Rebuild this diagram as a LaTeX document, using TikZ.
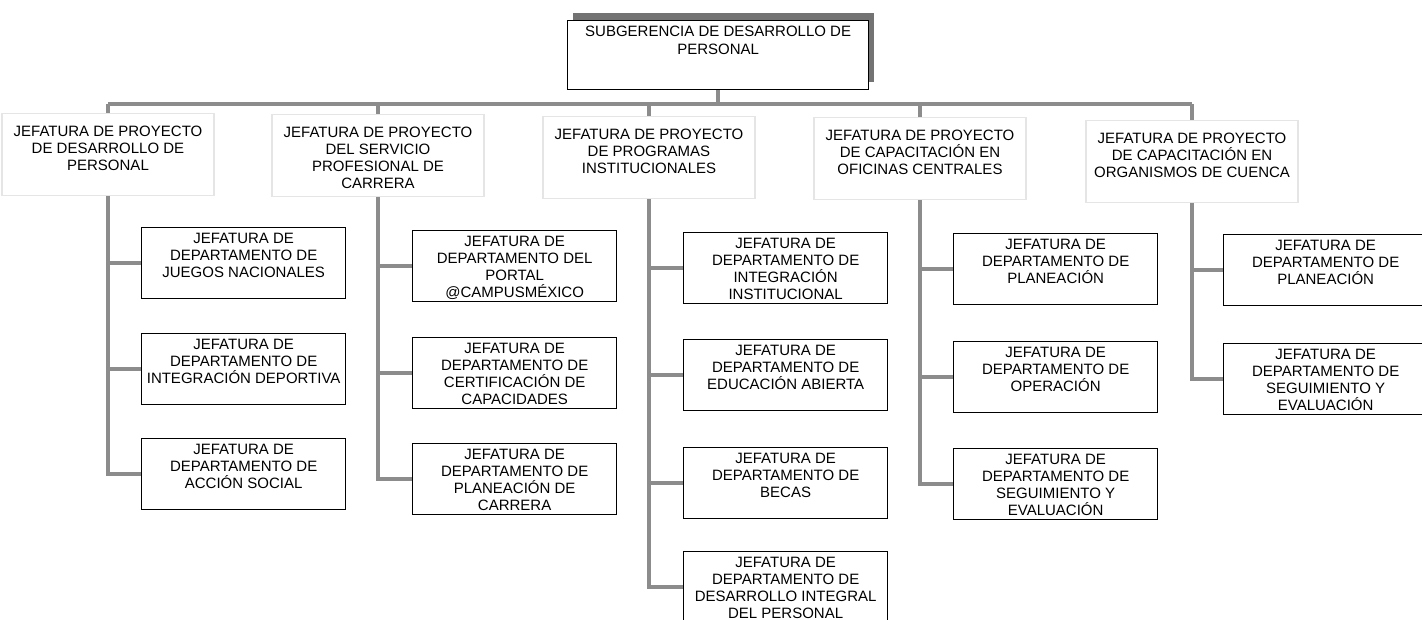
\documentclass[tikz,border=0pt]{standalone}
\usepackage{fontspec}
\setmainfont{Liberation Sans}
\newcommand{\subtxt}[1]{\parbox[c][71pt][t]{204pt}{\centering\fontsize{15}{17}\selectfont\rule{0pt}{15.5pt}#1}}
\newcommand{\headtxt}[1]{\parbox[c][82pt][t]{212pt}{\centering\fontsize{15}{17}\selectfont\rule{0pt}{23.4pt}#1}}
\newcommand{\toptxt}[1]{\parbox[c][69pt][t]{301pt}{\centering\fontsize{15}{18}\selectfont\rule{0pt}{15.6pt}#1}}
\tikzset{
  subbox/.style={draw=black, line width=1.3pt, fill=white, inner sep=0pt, anchor=north west},
  headbox/.style={draw=black!10, line width=1.2pt, inner sep=0pt, anchor=north},
  topbox/.style={draw=black, line width=1.3pt, fill=white, inner sep=0pt, anchor=north west},
  conn/.style={draw=black!45, line width=3.5pt},
}
\begin{document}
\begin{tikzpicture}[x=1pt,y=-1pt]
\useasboundingbox (0,0) rectangle (1422,620);
% top box with shadow
\fill[black!55] (573,13) rectangle (874,82);
\node[topbox] (top) at (567,20) {\toptxt{SUBGERENCIA DE DESARROLLO DE\\PERSONAL}};
% heads
\node[headbox] (t1) at (108,113) {\headtxt{JEFATURA DE PROYECTO\\DE DESARROLLO DE\\PERSONAL}};
\node[headbox] (t2) at (378,114) {\headtxt{JEFATURA DE PROYECTO\\DEL SERVICIO\\PROFESIONAL DE\\CARRERA}};
\node[headbox] (t3) at (649,116) {\headtxt{JEFATURA DE PROYECTO\\DE PROGRAMAS\\INSTITUCIONALES}};
\node[headbox] (t4) at (920,117) {\headtxt{JEFATURA DE PROYECTO\\DE CAPACITACIÓN EN\\OFICINAS CENTRALES}};
\node[headbox] (t5) at (1192,120) {\headtxt{JEFATURA DE PROYECTO\\DE CAPACITACIÓN EN\\ORGANISMOS DE CUENCA}};
% column 1
\node[subbox] (c1a) at (141,227) {\subtxt{JEFATURA DE\\DEPARTAMENTO DE\\JUEGOS NACIONALES}};
\node[subbox] (c1b) at (141,333) {\subtxt{JEFATURA DE\\DEPARTAMENTO DE\\INTEGRACIÓN DEPORTIVA}};
\node[subbox] (c1c) at (141,438) {\subtxt{JEFATURA DE\\DEPARTAMENTO DE\\ACCIÓN SOCIAL}};
% column 2
\node[subbox] (c2a) at (412,230) {\subtxt{JEFATURA DE\\DEPARTAMENTO DEL\\PORTAL\\@CAMPUSMÉXICO}};
\node[subbox] (c2b) at (412,337) {\subtxt{JEFATURA DE\\DEPARTAMENTO DE\\CERTIFICACIÓN DE\\CAPACIDADES}};
\node[subbox] (c2c) at (412,443) {\subtxt{JEFATURA DE\\DEPARTAMENTO DE\\PLANEACIÓN DE\\CARRERA}};
% column 3
\node[subbox] (c3a) at (683,232) {\subtxt{JEFATURA DE\\DEPARTAMENTO DE\\INTEGRACIÓN\\INSTITUCIONAL}};
\node[subbox] (c3b) at (683,339) {\subtxt{JEFATURA DE\\DEPARTAMENTO DE\\EDUCACIÓN ABIERTA}};
\node[subbox] (c3c) at (683,447) {\subtxt{JEFATURA DE\\DEPARTAMENTO DE\\BECAS}};
\node[subbox] (c3d) at (683,551) {\subtxt{JEFATURA DE\\DEPARTAMENTO DE\\DESARROLLO INTEGRAL\\DEL PERSONAL}};
% column 4
\node[subbox] (c4a) at (953,233) {\subtxt{JEFATURA DE\\DEPARTAMENTO DE\\PLANEACIÓN}};
\node[subbox] (c4b) at (953,341) {\subtxt{JEFATURA DE\\DEPARTAMENTO DE\\OPERACIÓN}};
\node[subbox] (c4c) at (953,448) {\subtxt{JEFATURA DE\\DEPARTAMENTO DE\\SEGUIMIENTO Y\\EVALUACIÓN}};
% column 5
\node[subbox] (c5a) at (1223,234) {\subtxt{JEFATURA DE\\DEPARTAMENTO DE\\PLANEACIÓN}};
\node[subbox] (c5b) at (1223,343) {\subtxt{JEFATURA DE\\DEPARTAMENTO DE\\SEGUIMIENTO Y\\EVALUACIÓN}};
% bus
\coordinate (busL) at (108,104);
\coordinate (busR) at (1192,104);
\draw[conn] (busL) -- (busR);
\draw[conn] (top.south) -- (top.south |- busL);
\foreach \t in {t1,t2,t3,t4,t5}{
  \draw[conn] (\t.north |- busL) -- (\t.north);
}
% spines
\draw[conn] (t1.south) |- (c1c.west);
\draw[conn] (t2.south) |- (c2c.west);
\draw[conn] (t3.south) |- (c3d.west);
\draw[conn] (t4.south) |- (c4c.west);
\draw[conn] (t5.south) |- (c5b.west);
% branches
\draw[conn] (t1.south |- c1a.west) -- (c1a.west);
\draw[conn] (t1.south |- c1b.west) -- (c1b.west);
\draw[conn] (t2.south |- c2a.west) -- (c2a.west);
\draw[conn] (t2.south |- c2b.west) -- (c2b.west);
\draw[conn] (t3.south |- c3a.west) -- (c3a.west);
\draw[conn] (t3.south |- c3b.west) -- (c3b.west);
\draw[conn] (t3.south |- c3c.west) -- (c3c.west);
\draw[conn] (t4.south |- c4a.west) -- (c4a.west);
\draw[conn] (t4.south |- c4b.west) -- (c4b.west);
\draw[conn] (t5.south |- c5a.west) -- (c5a.west);
\end{tikzpicture}
\end{document}
